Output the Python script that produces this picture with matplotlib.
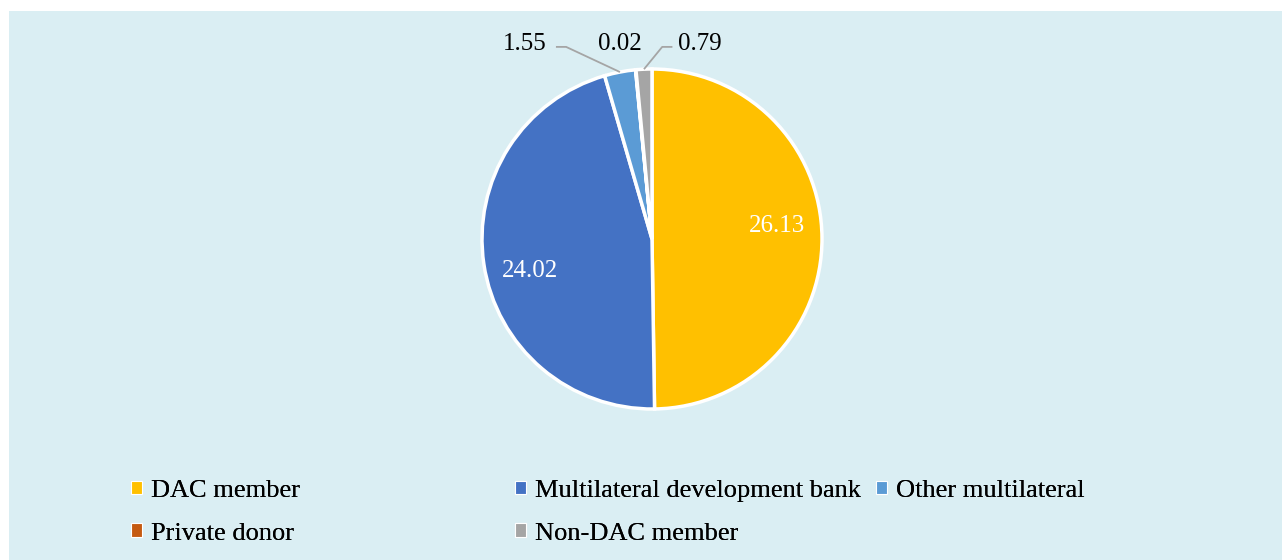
import numpy as np
import matplotlib
matplotlib.use("Agg")
import matplotlib.pyplot as plt
from matplotlib.patches import Rectangle, Patch

plt.rcParams["font.family"] = "serif"
plt.rcParams["font.serif"] = ["Liberation Serif", "DejaVu Serif"]

categories = ["DAC member", "Multilateral development bank", "Other multilateral",
              "Private donor", "Non-DAC member"]
values = [26.13, 24.02, 1.55, 0.02, 0.79]
colors = ["#FFC000", "#4472C4", "#5B9BD5", "#C55A11", "#A5A5A5"]
bg = "#DAEEF3"

W, H = 1282, 560
fig = plt.figure(figsize=(W / 100, H / 100), dpi=100)
fig.patch.set_facecolor("white")
fig.patches.append(Rectangle((9 / W, 0), 1 - 9 / W, 1 - 11 / H, transform=fig.transFigure,
                             facecolor=bg, edgecolor="none", zorder=-1))

cx, cy, r = 652, 239, 170
ax = fig.add_axes([(cx - r) / W, (H - cy - r) / H, 2 * r / W, 2 * r / H])
wedges, _ = ax.pie(values, colors=colors, startangle=90, counterclock=False,
                   wedgeprops=dict(edgecolor="white", linewidth=2.5))
ax.set_xlim(-1, 1)
ax.set_ylim(-1, 1)
ax.set_aspect("auto")
ax.axis("off")

fs = 18
# inside labels for the two large slices
inner_shift = [5.5, 6]
for i in range(2):
    w = wedges[i]
    mid = np.deg2rad((w.theta1 + w.theta2) / 2 + inner_shift[i])
    ax.text(0.74 * np.cos(mid), 0.74 * np.sin(mid), f"{values[i]:.2f}", color="white",
            fontsize=fs, ha="center", va="center")

# outside labels for the small slices
outer_pos = {2: (-0.75, 1.15), 3: (-0.19, 1.15), 4: (0.28, 1.15)}
for i, (tx, ty) in outer_pos.items():
    ax.text(tx, ty, f"{values[i]:.2f}", color="black", fontsize=fs, ha="center", va="center")
    if i == 3:
        continue
    w = wedges[i]
    mid = np.deg2rad((w.theta1 + w.theta2) / 2)
    ex, ey = np.cos(mid), np.sin(mid)
    if tx < 0:
        sx = tx + 0.185
        kx = sx + 0.06
    else:
        sx = tx - 0.16
        kx = sx - 0.06
    ax.plot([sx, kx, ex], [ty - 0.02, ty - 0.02, ey], color="#A5A5A5", lw=1.3,
            clip_on=False, solid_capstyle="butt")

# legend in three columns, row-major order as in the reference
col_x = [131, 515, 876]
cols = [[0, 3], [1, 4], [2]]
for x0, idx in zip(col_x, cols):
    handles = [Patch(facecolor=colors[k], edgecolor="white", linewidth=0.8) for k in idx]
    leg = fig.legend(handles, [categories[k] for k in idx], loc="upper left",
                     bbox_to_anchor=(x0 / W, 1 - 480 / H), frameon=False, fontsize=19,
                     handlelength=0.42, handleheight=0.42, handletextpad=0.33,
                     labelspacing=0.78, borderpad=0, borderaxespad=0)
    fig.add_artist(leg)

fig.savefig("out.png", dpi=100, facecolor=fig.get_facecolor())
